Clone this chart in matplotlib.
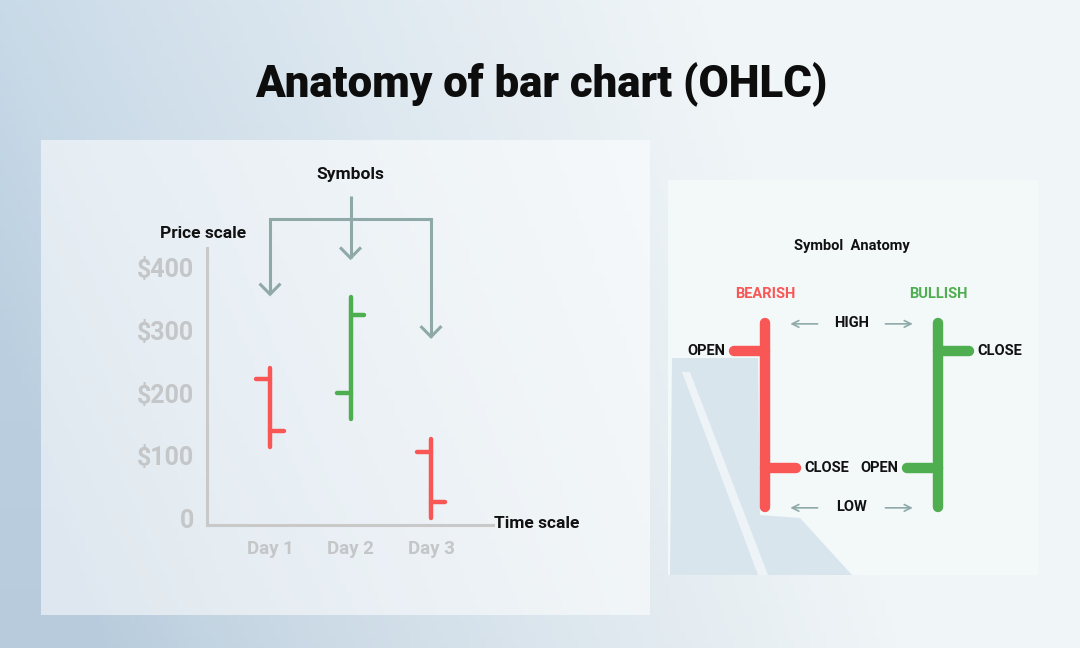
import numpy as np
import matplotlib
matplotlib.use("Agg")
import matplotlib.pyplot as plt
from matplotlib.patches import Rectangle, Polygon

plt.rcParams['font.family'] = ['Roboto', 'DejaVu Sans']

# ---------------- data ----------------
days = ["Day 1", "Day 2", "Day 3"]
day_pos = [1, 2, 3]
opens = [222, 200, 106]
highs = [240, 354, 126]
lows = [113, 158, 0]
closes = [139, 325, 26]
price_ticks = [0, 100, 200, 300, 400]
price_labels = ["0", "$100", "$200", "$300", "$400"]

# schematic anatomy symbols
anat_names = ["BEARISH", "BULLISH"]
anat_pos = [1, 2]
anat_open = [85, 21]
anat_high = [100, 100]
anat_low = [0, 0]
anat_close = [21, 85]

# arrow annotation levels (price units) pointing at the symbols
arrow_tips = [358, 416, 290]
bracket_level = 478
stem_top = 515
symbols_label_level = 549

RED = "#f95656"
GREEN = "#4fae50"
GREYTXT = "#c4c6c7"
ARROW = "#8fa9a9"

W, H = 1080, 648
fig = plt.figure(figsize=(10.8, 6.48), dpi=100)

# ---------------- background ----------------
bg = fig.add_axes([0, 0, 1, 1], zorder=0)
bg.set_xlim(0, W)
bg.set_ylim(H, 0)
bg.axis("off")
xx, yy = np.meshgrid(np.linspace(0, 1, 200), np.linspace(0, 1, 120))
c_left = np.array([0xbf, 0xd3, 0xe4]) / 255
c_right = np.array([0xf0, 0xf5, 0xf7]) / 255
t = np.clip(xx * 1.35 - (yy - 0.5) * 0.25, 0, 1) ** 0.8
img = c_left[None, None, :] * (1 - t[..., None]) + c_right[None, None, :] * t[..., None]
img = img - (yy[..., None] * 0.03 * (1 - t[..., None]))
bg.imshow(np.clip(img, 0, 1), extent=(0, W, H, 0), aspect="auto", zorder=0)

bg.add_patch(Rectangle((41, 140), 609, 475, facecolor="white", alpha=0.55,
                       edgecolor="none", zorder=1))
bg.add_patch(Rectangle((668, 180), 370, 395, facecolor="#f3f8f9",
                       edgecolor="none", zorder=1))
# faint shaded artefact in the anatomy panel
bg.add_patch(Polygon([(672, 358), (758, 358), (760, 515), (800, 518), (852, 575),
                      (670, 575)], closed=True, facecolor="#d9e5ed",
                     edgecolor="none", zorder=1.5))
bg.add_patch(Polygon([(682, 372), (690, 372), (768, 575), (758, 575)], closed=True,
                     facecolor="#edf3f6", edgecolor="none", zorder=1.6))

bg.text(541, 85, "Anatomy of bar chart (OHLC)", ha="center", va="center",
        fontsize=31.5, fontweight="heavy", color="#0d0d0d", zorder=5)

# ---------------- OHLC chart ----------------
ax = fig.add_axes([207 / W, 1 - 525 / H, (493 - 207) / W, (525 - 248) / H], zorder=2)
ax.set_facecolor("none")
ax.set_xlim(0.217, 3.77)
ax.set_ylim(-11.2, 432)
for s in ["top", "right"]:
    ax.spines[s].set_visible(False)
for s in ["left", "bottom"]:
    ax.spines[s].set_color("#c9c9c9")
    ax.spines[s].set_linewidth(2.2)
ax.set_yticks(price_ticks)
ax.set_yticklabels(price_labels)
ax.set_xticks(day_pos)
ax.set_xticklabels(days)
ax.tick_params(axis="y", length=0, pad=9, labelsize=18, labelcolor=GREYTXT)
ax.tick_params(axis="x", length=0, pad=11, labelsize=13.5, labelcolor=GREYTXT)
for lab in ax.get_yticklabels() + ax.get_xticklabels():
    lab.set_fontweight("bold")

tick_len = 0.17
for x, o, h, l, c in zip(day_pos, opens, highs, lows, closes):
    col = GREEN if c >= o else RED
    kw = dict(color=col, lw=3.2, solid_capstyle="round", clip_on=False)
    ax.plot([x, x], [l, h], **kw)
    ax.plot([x - tick_len, x], [o, o], **kw)
    ax.plot([x, x + tick_len], [c, c], **kw)

# symbol arrows
akw = dict(color=ARROW, lw=2.2, clip_on=False, solid_capstyle="butt",
           solid_joinstyle="miter")
ax.plot([day_pos[0], day_pos[0], day_pos[2], day_pos[2]],
        [arrow_tips[0], bracket_level, bracket_level, arrow_tips[2]], **akw)
ax.plot([day_pos[1], day_pos[1]], [stem_top, arrow_tips[1]], **akw)
hw, hh = 0.13, 17
for x, tip in zip(day_pos, arrow_tips):
    ax.plot([x - hw, x, x + hw], [tip + hh, tip, tip + hh], **akw)

ax.text(day_pos[1], symbols_label_level, "Symbols", ha="center", va="center",
        fontsize=12.5, fontweight="bold", color="#111111", clip_on=False)
bg.text(203, 233, "Price scale", ha="center", va="center", fontsize=12.5,
        fontweight="bold", color="#111111", zorder=5)
bg.text(537, 523, "Time scale", ha="center", va="center", fontsize=12.5,
        fontweight="bold", color="#111111", zorder=5)

# ---------------- anatomy panel ----------------
ax2 = fig.add_axes([668 / W, 1 - 575 / H, 370 / W, 395 / H], zorder=2)
ax2.set_facecolor("none")
ax2.axis("off")
ax2.set_xlim(0.439, 2.578)
ax2.set_ylim(-37, 177.7)
atl = 0.18
for x, o, h, l, c, name in zip(anat_pos, anat_open, anat_high, anat_low,
                               anat_close, anat_names):
    col = GREEN if c >= o else RED
    kw = dict(color=col, lw=7.5, solid_capstyle="round")
    ax2.plot([x, x], [l, h], **kw)
    ax2.plot([x - atl, x], [o, o], **kw)
    ax2.plot([x, x + atl], [c, c], **kw)
    ax2.text(x, h + 15.5, name, ha="center", va="center", fontsize=10.5,
             fontweight="bold", color=col)
    ax2.text(x - atl - 0.05, o, "OPEN", ha="right", va="center", fontsize=10.5,
             fontweight="bold", color="#111111")
    ax2.text(x + atl + 0.05, c, "CLOSE", ha="left", va="center", fontsize=10.5,
             fontweight="bold", color="#111111")

mid = (anat_pos[0] + anat_pos[1]) / 2
for lvl, txt in [(anat_high[0], "HIGH"), (anat_low[0], "LOW")]:
    ax2.text(mid, lvl, txt, ha="center", va="center", fontsize=10.5,
             fontweight="bold", color="#111111")
    ax2.annotate("", xy=(anat_pos[0] + 0.13, lvl - 0.5), xytext=(anat_pos[0] + 0.32, lvl - 0.5),
                 arrowprops=dict(arrowstyle="->", color=ARROW, lw=1.2,
                                 mutation_scale=12))
    ax2.annotate("", xy=(anat_pos[1] - 0.13, lvl - 0.5), xytext=(anat_pos[1] - 0.32, lvl - 0.5),
                 arrowprops=dict(arrowstyle="->", color=ARROW, lw=1.2,
                                 mutation_scale=12))

ax2.text(mid, anat_high[0] + 42, "Symbol  Anatomy", ha="center", va="center",
         fontsize=10.5, fontweight="bold", color="#111111")

fig.savefig("out.png", dpi=100)
